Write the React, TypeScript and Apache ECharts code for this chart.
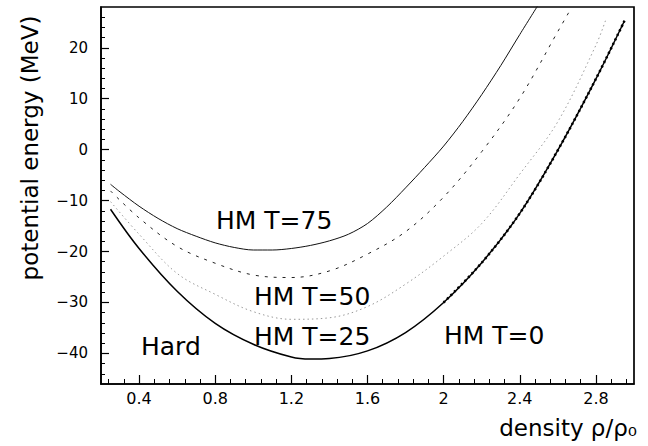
import React, { useEffect, useRef } from "react";
import * as echarts from "echarts";

// ---- data ----
const t75X = [0.25, 0.3, 0.4, 0.5, 0.6, 0.7, 0.8, 0.9, 1.0, 1.1, 1.2, 1.3, 1.4, 1.5, 1.6, 1.7, 1.8, 1.9, 2.0, 2.1, 2.2, 2.3, 2.4, 2.5];
const t75Y = [-6.8, -8.3, -11.1, -13.5, -15.5, -17.0, -18.3, -19.2, -19.7, -19.7, -19.4, -18.8, -17.9, -16.6, -14.5, -11.3, -7.5, -3.5, 0.7, 5.5, 10.8, 16.5, 22.6, 28.6];

const t50X = [0.25, 0.4, 0.6, 0.8, 1.0, 1.2, 1.4, 1.6, 1.8, 2.0, 2.2, 2.4, 2.6, 2.66];
const t50Y = [-8.1, -13.4, -19.0, -22.3, -24.6, -25.1, -23.8, -20.5, -16.1, -9.3, -0.4, 10.1, 23.2, 27.1];

const t25X = [0.25, 0.4, 0.6, 0.8, 1.0, 1.2, 1.4, 1.6, 1.8, 2.0, 2.2, 2.4, 2.6, 2.8, 2.85];
const t25Y = [-10.2, -16.6, -24.3, -28.4, -31.8, -33.3, -33.0, -30.8, -26.4, -20.9, -14.5, -4.8, 5.5, 20.5, 25.3];

const hardX = [0.25, 0.4, 0.6, 0.8, 1.0, 1.2, 1.3, 1.4, 1.6, 1.8, 2.0, 2.2, 2.4, 2.6, 2.8, 2.95];
const hardY = [-11.7, -19.4, -27.8, -34.1, -38.2, -40.7, -41.1, -41.0, -39.5, -35.9, -30.0, -22.2, -12.5, -0.1, 13.9, 25.3];

const t0X = [2.0, 2.2, 2.4, 2.6, 2.8, 2.95];
const t0Y = [-30.0, -22.2, -12.5, -0.1, 13.9, 25.3];

const xMajorTicks = [0.4, 0.8, 1.2, 1.6, 2.0, 2.4, 2.8];
const xMinorTicks = [0.24, 0.32, 0.4, 0.48, 0.56, 0.64, 0.72, 0.8, 0.88, 0.96, 1.04, 1.12, 1.2, 1.28, 1.36, 1.44, 1.52, 1.6, 1.68, 1.76, 1.84, 1.92, 2.0, 2.08, 2.16, 2.24, 2.32, 2.4, 2.48, 2.56, 2.64, 2.72, 2.8, 2.88, 2.96];
const yMajorTicks = [-40, -30, -20, -10, 0, 10, 20];
const yMinorTicks = [-44, -42, -40, -38, -36, -34, -32, -30, -28, -26, -24, -22, -20, -18, -16, -14, -12, -10, -8, -6, -4, -2, 0, 2, 4, 6, 8, 10, 12, 14, 16, 18, 20, 22, 24, 26];

const curveLabels = ["HM T=75", "HM T=50", "HM T=25", "Hard", "HM T=0"];
const xTitle = "density ρ/ρ₀";
const yTitle = "potential energy (MeV)";

const FONT = "DejaVu Sans";

function pairs(xs: number[], ys: number[]) {
  return xs.map((x, i) => [x, ys[i]]);
}

export default function App() {
  const ref = useRef<HTMLDivElement>(null);
  useEffect(() => {
    if (!ref.current) return;
    const chart = echarts.init(ref.current, null, { renderer: "svg" });
    const lbl = (text: string, x: number, y: number) => ({
      type: "text",
      x,
      y,
      style: { text, fill: "#000", fontSize: 25, fontFamily: FONT, textAlign: "left", textVerticalAlign: "middle" },
    });
    const xBase = { type: "value", min: 0.2, max: 3.0, position: "bottom", splitLine: { show: false } };
    const yBase = { type: "value", min: -46, max: 28, position: "left", splitLine: { show: false } };
    chart.setOption({
      animation: false,
      backgroundColor: "#fff",
      grid: { left: 101, right: 14, top: 7, bottom: 62, show: true, borderColor: "#000", borderWidth: 1.7, backgroundColor: "transparent" },
      xAxis: [
        {
          ...xBase,
          axisLine: { show: true, onZero: false, lineStyle: { color: "#000", width: 1.5 } },
          axisTick: { show: true, inside: true, length: 9, customValues: xMajorTicks, lineStyle: { color: "#000", width: 1.2 } },
          axisLabel: { show: true, customValues: xMajorTicks, color: "#000", fontSize: 16, fontFamily: FONT, margin: 6, formatter: (v: number) => String(Math.round(v * 10) / 10) },
        },
        {
          ...xBase,
          axisLine: { show: false, onZero: false },
          axisTick: { show: true, inside: true, length: 5, customValues: xMinorTicks, lineStyle: { color: "#000", width: 1 } },
          axisLabel: { show: false },
        },
      ],
      yAxis: [
        {
          ...yBase,
          axisLine: { show: true, onZero: false, lineStyle: { color: "#000", width: 1.5 } },
          axisTick: { show: true, inside: true, length: 8, customValues: yMajorTicks, lineStyle: { color: "#000", width: 1.2 } },
          axisLabel: { show: true, customValues: yMajorTicks, color: "#000", fontSize: 15, fontFamily: FONT, margin: 13, formatter: (v: number) => String(v).replace("-", "\u2212") },
        },
        {
          ...yBase,
          axisLine: { show: false, onZero: false },
          axisTick: { show: true, inside: true, length: 4, customValues: yMinorTicks, lineStyle: { color: "#000", width: 1 } },
          axisLabel: { show: false },
        },
      ],
      series: [
        { name: "HM T=75", type: "line", xAxisIndex: 0, yAxisIndex: 0, data: pairs(t75X, t75Y), smooth: 0.3, showSymbol: false, lineStyle: { color: "#111", width: 1 } },
        { name: "HM T=50", type: "line", xAxisIndex: 0, yAxisIndex: 0, data: pairs(t50X, t50Y), smooth: 0.35, showSymbol: false, lineStyle: { color: "#222", width: 1, type: [3, 6] } },
        { name: "HM T=25", type: "line", xAxisIndex: 0, yAxisIndex: 0, data: pairs(t25X, t25Y), smooth: 0.35, showSymbol: false, lineStyle: { color: "#999", width: 1, type: [1.5, 3] } },
        { name: "Hard", type: "line", xAxisIndex: 0, yAxisIndex: 0, data: pairs(hardX, hardY), smooth: 0.35, showSymbol: false, lineStyle: { color: "#000", width: 1.5 } },
        { name: "HM T=0", type: "line", xAxisIndex: 0, yAxisIndex: 0, data: pairs(t0X, t0Y), smooth: 0.35, showSymbol: false, lineStyle: { color: "#000", width: 2.5, type: [2, 3] } },
      ],
      graphic: [
        lbl(curveLabels[0], 216, 220),
        lbl(curveLabels[1], 254, 296),
        lbl(curveLabels[2], 254, 336),
        lbl(curveLabels[3], 141, 346),
        lbl(curveLabels[4], 444, 335),
        {
          type: "text", x: 30, y: 148, rotation: Math.PI / 2,
          style: { text: yTitle, fill: "#000", fontSize: 23, fontFamily: FONT, textAlign: "center", textVerticalAlign: "middle" },
        },
        {
          type: "text", x: 637, y: 428,
          style: { text: xTitle, fill: "#000", fontSize: 23, fontFamily: FONT, textAlign: "right", textVerticalAlign: "middle" },
        },
      ],
    });
    return () => chart.dispose();
  }, []);
  return <div ref={ref} style={{ position: "absolute", left: 0, top: 0, width: 648, height: 446 }} />;
}
